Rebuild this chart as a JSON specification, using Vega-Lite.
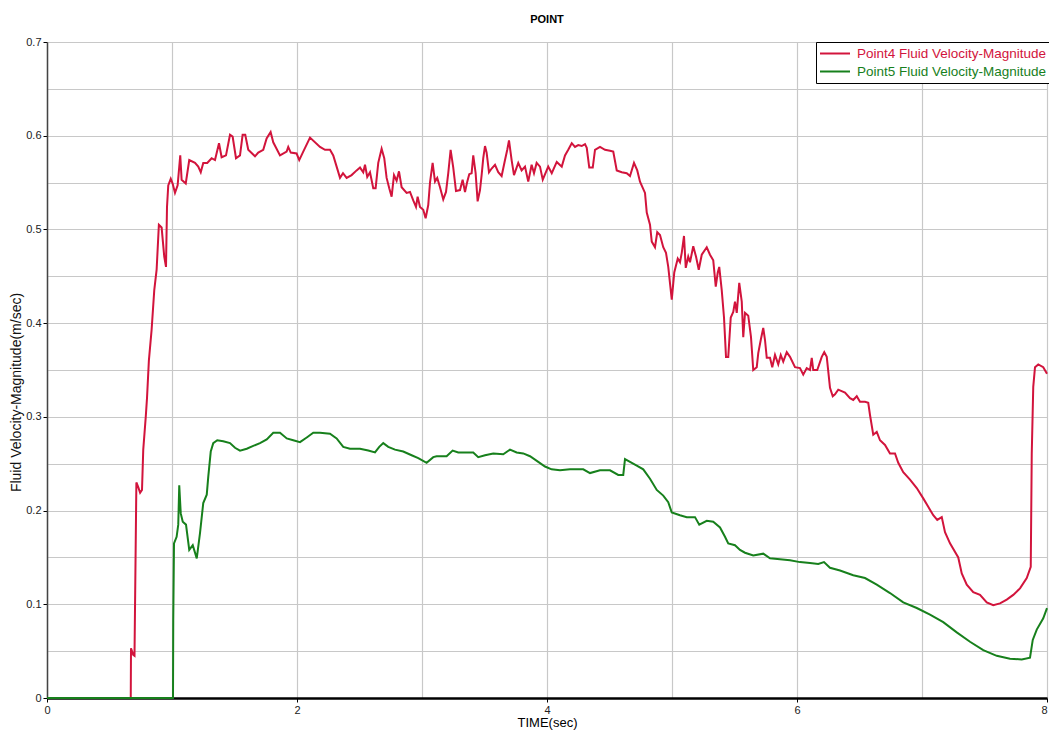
{
  "$schema": "https://vega.github.io/schema/vega-lite/v6.json",
  "width": 1000,
  "height": 656,
  "autosize": {"type": "none"},
  "padding": {"left": 47, "top": 42, "right": 2, "bottom": 33},
  "background": "white",
  "title": {"text": "POINT", "fontSize": 11, "fontWeight": "bold", "font": "Liberation Sans", "color": "#000", "offset": 11},
  "config": {
    "view": {"stroke": null},
    "font": "Liberation Sans"
  },
  "datasets": {
    "p4": [
      {"t":0,"v":0},{"t":0.67,"v":0},{"t":0.672,"v":0.053},{"t":0.69,"v":0.046},{"t":0.70,"v":0.045},{"t":0.715,"v":0.23},{"t":0.73,"v":0.225},{"t":0.745,"v":0.219},{"t":0.76,"v":0.222},{"t":0.77,"v":0.265},{"t":0.79,"v":0.30},{"t":0.80,"v":0.32},{"t":0.815,"v":0.36},{"t":0.837,"v":0.393},{"t":0.858,"v":0.435},{"t":0.877,"v":0.457},{"t":0.895,"v":0.505},{"t":0.917,"v":0.502},{"t":0.938,"v":0.471},{"t":0.952,"v":0.46},{"t":0.96,"v":0.524},{"t":0.97,"v":0.547},{"t":0.99,"v":0.554},{"t":1.005,"v":0.549},{"t":1.024,"v":0.539},{"t":1.045,"v":0.547},{"t":1.066,"v":0.579},{"t":1.077,"v":0.553},{"t":1.11,"v":0.549},{"t":1.138,"v":0.574},{"t":1.184,"v":0.571},{"t":1.21,"v":0.567},{"t":1.23,"v":0.561},{"t":1.25,"v":0.571},{"t":1.282,"v":0.571},{"t":1.317,"v":0.576},{"t":1.344,"v":0.574},{"t":1.376,"v":0.592},{"t":1.397,"v":0.577},{"t":1.432,"v":0.579},{"t":1.464,"v":0.601},{"t":1.485,"v":0.599},{"t":1.512,"v":0.576},{"t":1.544,"v":0.579},{"t":1.565,"v":0.601},{"t":1.586,"v":0.601},{"t":1.61,"v":0.585},{"t":1.664,"v":0.578},{"t":1.69,"v":0.582},{"t":1.73,"v":0.585},{"t":1.757,"v":0.597},{"t":1.789,"v":0.604},{"t":1.81,"v":0.593},{"t":1.864,"v":0.579},{"t":1.917,"v":0.583},{"t":1.93,"v":0.588},{"t":1.95,"v":0.582},{"t":1.997,"v":0.581},{"t":2.018,"v":0.574},{"t":2.05,"v":0.583},{"t":2.104,"v":0.598},{"t":2.184,"v":0.588},{"t":2.224,"v":0.585},{"t":2.264,"v":0.585},{"t":2.29,"v":0.579},{"t":2.317,"v":0.567},{"t":2.344,"v":0.555},{"t":2.368,"v":0.56},{"t":2.397,"v":0.555},{"t":2.437,"v":0.558},{"t":2.477,"v":0.563},{"t":2.504,"v":0.566},{"t":2.53,"v":0.561},{"t":2.544,"v":0.569},{"t":2.562,"v":0.556},{"t":2.584,"v":0.561},{"t":2.61,"v":0.544},{"t":2.629,"v":0.544},{"t":2.65,"v":0.571},{"t":2.677,"v":0.586},{"t":2.698,"v":0.576},{"t":2.717,"v":0.555},{"t":2.738,"v":0.544},{"t":2.757,"v":0.535},{"t":2.776,"v":0.558},{"t":2.797,"v":0.552},{"t":2.816,"v":0.562},{"t":2.837,"v":0.545},{"t":2.877,"v":0.539},{"t":2.904,"v":0.54},{"t":2.93,"v":0.531},{"t":2.952,"v":0.524},{"t":2.965,"v":0.535},{"t":2.984,"v":0.524},{"t":3.01,"v":0.521},{"t":3.029,"v":0.512},{"t":3.05,"v":0.526},{"t":3.064,"v":0.55},{"t":3.085,"v":0.571},{"t":3.104,"v":0.551},{"t":3.122,"v":0.555},{"t":3.144,"v":0.545},{"t":3.17,"v":0.532},{"t":3.192,"v":0.54},{"t":3.21,"v":0.56},{"t":3.229,"v":0.585},{"t":3.25,"v":0.566},{"t":3.272,"v":0.541},{"t":3.304,"v":0.542},{"t":3.325,"v":0.553},{"t":3.344,"v":0.54},{"t":3.362,"v":0.551},{"t":3.378,"v":0.559},{"t":3.397,"v":0.56},{"t":3.41,"v":0.579},{"t":3.429,"v":0.56},{"t":3.445,"v":0.53},{"t":3.464,"v":0.542},{"t":3.477,"v":0.558},{"t":3.49,"v":0.576},{"t":3.504,"v":0.589},{"t":3.517,"v":0.582},{"t":3.536,"v":0.561},{"t":3.557,"v":0.565},{"t":3.584,"v":0.569},{"t":3.61,"v":0.561},{"t":3.637,"v":0.557},{"t":3.664,"v":0.574},{"t":3.682,"v":0.585},{"t":3.696,"v":0.595},{"t":3.717,"v":0.574},{"t":3.736,"v":0.558},{"t":3.77,"v":0.571},{"t":3.797,"v":0.563},{"t":3.824,"v":0.567},{"t":3.85,"v":0.551},{"t":3.877,"v":0.569},{"t":3.896,"v":0.56},{"t":3.917,"v":0.571},{"t":3.944,"v":0.567},{"t":3.966,"v":0.553},{"t":4.01,"v":0.567},{"t":4.038,"v":0.56},{"t":4.078,"v":0.572},{"t":4.118,"v":0.567},{"t":4.144,"v":0.579},{"t":4.17,"v":0.585},{"t":4.198,"v":0.592},{"t":4.224,"v":0.588},{"t":4.25,"v":0.59},{"t":4.278,"v":0.589},{"t":4.304,"v":0.591},{"t":4.318,"v":0.587},{"t":4.338,"v":0.566},{"t":4.366,"v":0.566},{"t":4.384,"v":0.585},{"t":4.424,"v":0.588},{"t":4.464,"v":0.585},{"t":4.504,"v":0.584},{"t":4.53,"v":0.583},{"t":4.558,"v":0.563},{"t":4.598,"v":0.561},{"t":4.638,"v":0.56},{"t":4.664,"v":0.557},{"t":4.696,"v":0.571},{"t":4.722,"v":0.563},{"t":4.744,"v":0.551},{"t":4.784,"v":0.539},{"t":4.798,"v":0.518},{"t":4.824,"v":0.505},{"t":4.838,"v":0.487},{"t":4.864,"v":0.481},{"t":4.882,"v":0.497},{"t":4.904,"v":0.494},{"t":4.93,"v":0.481},{"t":4.952,"v":0.475},{"t":4.97,"v":0.46},{"t":4.998,"v":0.425},{"t":5.018,"v":0.454},{"t":5.046,"v":0.469},{"t":5.064,"v":0.465},{"t":5.078,"v":0.475},{"t":5.096,"v":0.493},{"t":5.11,"v":0.459},{"t":5.13,"v":0.471},{"t":5.144,"v":0.465},{"t":5.17,"v":0.482},{"t":5.192,"v":0.471},{"t":5.214,"v":0.457},{"t":5.238,"v":0.473},{"t":5.278,"v":0.481},{"t":5.304,"v":0.473},{"t":5.33,"v":0.467},{"t":5.35,"v":0.439},{"t":5.366,"v":0.454},{"t":5.378,"v":0.46},{"t":5.398,"v":0.435},{"t":5.416,"v":0.406},{"t":5.432,"v":0.364},{"t":5.45,"v":0.364},{"t":5.47,"v":0.406},{"t":5.49,"v":0.412},{"t":5.504,"v":0.423},{"t":5.518,"v":0.411},{"t":5.538,"v":0.443},{"t":5.558,"v":0.423},{"t":5.57,"v":0.385},{"t":5.584,"v":0.411},{"t":5.61,"v":0.408},{"t":5.632,"v":0.385},{"t":5.65,"v":0.35},{"t":5.678,"v":0.353},{"t":5.69,"v":0.368},{"t":5.71,"v":0.382},{"t":5.73,"v":0.395},{"t":5.744,"v":0.382},{"t":5.758,"v":0.363},{"t":5.784,"v":0.363},{"t":5.802,"v":0.353},{"t":5.824,"v":0.366},{"t":5.85,"v":0.356},{"t":5.87,"v":0.366},{"t":5.89,"v":0.359},{"t":5.918,"v":0.369},{"t":5.944,"v":0.364},{"t":5.984,"v":0.353},{"t":6.024,"v":0.352},{"t":6.05,"v":0.345},{"t":6.078,"v":0.352},{"t":6.104,"v":0.35},{"t":6.118,"v":0.363},{"t":6.13,"v":0.35},{"t":6.162,"v":0.35},{"t":6.198,"v":0.364},{"t":6.218,"v":0.369},{"t":6.238,"v":0.364},{"t":6.264,"v":0.331},{"t":6.286,"v":0.322},{"t":6.304,"v":0.324},{"t":6.33,"v":0.329},{"t":6.384,"v":0.326},{"t":6.424,"v":0.32},{"t":6.45,"v":0.318},{"t":6.478,"v":0.322},{"t":6.504,"v":0.316},{"t":6.544,"v":0.316},{"t":6.57,"v":0.315},{"t":6.584,"v":0.302},{"t":6.61,"v":0.281},{"t":6.638,"v":0.284},{"t":6.664,"v":0.275},{"t":6.704,"v":0.27},{"t":6.744,"v":0.261},{"t":6.784,"v":0.261},{"t":6.81,"v":0.251},{"t":6.85,"v":0.241},{"t":6.904,"v":0.233},{"t":6.958,"v":0.224},{"t":7.01,"v":0.213},{"t":7.05,"v":0.204},{"t":7.09,"v":0.195},{"t":7.122,"v":0.19},{"t":7.158,"v":0.193},{"t":7.184,"v":0.177},{"t":7.224,"v":0.165},{"t":7.29,"v":0.15},{"t":7.318,"v":0.133},{"t":7.358,"v":0.121},{"t":7.41,"v":0.113},{"t":7.464,"v":0.11},{"t":7.518,"v":0.102},{"t":7.57,"v":0.099},{"t":7.624,"v":0.101},{"t":7.678,"v":0.105},{"t":7.73,"v":0.11},{"t":7.784,"v":0.117},{"t":7.838,"v":0.128},{"t":7.87,"v":0.14},{"t":7.878,"v":0.261},{"t":7.89,"v":0.332},{"t":7.904,"v":0.353},{"t":7.93,"v":0.356},{"t":7.97,"v":0.353},{"t":8.0,"v":0.346}
    ],
    "p5": [
      {"t":0,"v":0},{"t":1.008,"v":0},{"t":1.01,"v":0.083},{"t":1.016,"v":0.165},{"t":1.037,"v":0.172},{"t":1.05,"v":0.185},{"t":1.058,"v":0.227},{"t":1.07,"v":0.197},{"t":1.086,"v":0.188},{"t":1.112,"v":0.185},{"t":1.138,"v":0.158},{"t":1.166,"v":0.163},{"t":1.198,"v":0.149},{"t":1.224,"v":0.176},{"t":1.25,"v":0.208},{"t":1.278,"v":0.217},{"t":1.29,"v":0.236},{"t":1.31,"v":0.263},{"t":1.33,"v":0.272},{"t":1.362,"v":0.275},{"t":1.41,"v":0.274},{"t":1.464,"v":0.272},{"t":1.504,"v":0.267},{"t":1.544,"v":0.264},{"t":1.598,"v":0.266},{"t":1.65,"v":0.269},{"t":1.704,"v":0.272},{"t":1.758,"v":0.276},{"t":1.81,"v":0.283},{"t":1.864,"v":0.283},{"t":1.918,"v":0.277},{"t":1.97,"v":0.275},{"t":2.024,"v":0.273},{"t":2.078,"v":0.278},{"t":2.13,"v":0.283},{"t":2.184,"v":0.283},{"t":2.264,"v":0.282},{"t":2.317,"v":0.277},{"t":2.37,"v":0.268},{"t":2.424,"v":0.266},{"t":2.504,"v":0.266},{"t":2.57,"v":0.264},{"t":2.624,"v":0.262},{"t":2.658,"v":0.268},{"t":2.69,"v":0.272},{"t":2.73,"v":0.268},{"t":2.784,"v":0.265},{"t":2.85,"v":0.263},{"t":2.917,"v":0.259},{"t":2.97,"v":0.256},{"t":3.037,"v":0.251},{"t":3.09,"v":0.257},{"t":3.117,"v":0.258},{"t":3.197,"v":0.258},{"t":3.245,"v":0.264},{"t":3.29,"v":0.262},{"t":3.357,"v":0.262},{"t":3.41,"v":0.262},{"t":3.45,"v":0.257},{"t":3.504,"v":0.259},{"t":3.57,"v":0.261},{"t":3.65,"v":0.26},{"t":3.704,"v":0.265},{"t":3.757,"v":0.262},{"t":3.81,"v":0.261},{"t":3.864,"v":0.258},{"t":3.93,"v":0.252},{"t":3.984,"v":0.247},{"t":4.037,"v":0.244},{"t":4.104,"v":0.243},{"t":4.184,"v":0.244},{"t":4.29,"v":0.244},{"t":4.344,"v":0.24},{"t":4.424,"v":0.243},{"t":4.504,"v":0.243},{"t":4.57,"v":0.238},{"t":4.61,"v":0.238},{"t":4.624,"v":0.255},{"t":4.664,"v":0.252},{"t":4.718,"v":0.248},{"t":4.77,"v":0.244},{"t":4.824,"v":0.234},{"t":4.878,"v":0.222},{"t":4.93,"v":0.216},{"t":4.97,"v":0.209},{"t":4.998,"v":0.198},{"t":5.064,"v":0.195},{"t":5.118,"v":0.193},{"t":5.184,"v":0.193},{"t":5.218,"v":0.185},{"t":5.278,"v":0.189},{"t":5.33,"v":0.188},{"t":5.384,"v":0.182},{"t":5.424,"v":0.172},{"t":5.45,"v":0.165},{"t":5.504,"v":0.163},{"t":5.544,"v":0.158},{"t":5.584,"v":0.155},{"t":5.65,"v":0.152},{"t":5.73,"v":0.154},{"t":5.784,"v":0.149},{"t":5.864,"v":0.148},{"t":5.944,"v":0.147},{"t":6.024,"v":0.145},{"t":6.104,"v":0.144},{"t":6.17,"v":0.143},{"t":6.216,"v":0.145},{"t":6.264,"v":0.139},{"t":6.344,"v":0.136},{"t":6.45,"v":0.131},{"t":6.544,"v":0.128},{"t":6.638,"v":0.121},{"t":6.744,"v":0.112},{"t":6.85,"v":0.102},{"t":6.958,"v":0.096},{"t":7.064,"v":0.089},{"t":7.17,"v":0.081},{"t":7.278,"v":0.07},{"t":7.384,"v":0.06},{"t":7.49,"v":0.051},{"t":7.598,"v":0.045},{"t":7.704,"v":0.042},{"t":7.798,"v":0.041},{"t":7.864,"v":0.043},{"t":7.886,"v":0.062},{"t":7.918,"v":0.073},{"t":7.97,"v":0.085},{"t":8.0,"v":0.096}
    ]
  },
  "layer": [
    {
      "data": {"values": [{"top": 0.7}]},
      "mark": {"type": "rule", "color": "#000", "strokeWidth": 1.5},
      "encoding": {"y": {"field": "top", "type": "quantitative"}}
    },
    {
      "data": {"name": "p4"},
      "transform": [{"calculate": "'Point4 Fluid Velocity-Magnitude'", "as": "s"}],
      "mark": {"type": "line", "strokeWidth": 2, "interpolate": "linear"},
      "encoding": {
        "x": {"field": "t", "type": "quantitative"},
        "y": {"field": "v", "type": "quantitative"},
        "color": {"field": "s", "type": "nominal"}
      }
    },
    {
      "data": {"name": "p5"},
      "transform": [{"calculate": "'Point5 Fluid Velocity-Magnitude'", "as": "s"}],
      "mark": {"type": "line", "strokeWidth": 2, "interpolate": "linear"},
      "encoding": {
        "x": {"field": "t", "type": "quantitative"},
        "y": {"field": "v", "type": "quantitative"},
        "color": {"field": "s", "type": "nominal"}
      }
    }
  ],
  "encoding": {
    "x": {
      "field": "t", "type": "quantitative",
      "scale": {"domain": [0, 8], "nice": false, "zero": false},
      "axis": {
        "title": "TIME(sec)", "titleFont": "Liberation Sans", "titleFontSize": 13, "titleFontWeight": "normal", "titleColor": "#000", "titlePadding": 1,
        "values": [0,1,2,3,4,5,6,7,8],
        "labelExpr": "datum.value % 2 == 0 ? datum.label : ''",
        "labelAlign": {"condition": {"test": "datum.value == 8", "value": "right"}, "value": "center"},
        "labelFontSize": 11, "labelColor": "#222", "labelPadding": 2, "labelFlush": false, "labelOverlap": false,
        "tickColor": {"condition": {"test": "datum.value % 2 == 0", "value": "#000"}, "value": "transparent"},
        "tickSize": 4,
        "domainColor": "#000", "domainWidth": 2.5,
        "grid": true, "gridColor": "#c8c8c8", "gridWidth": 1.2
      }
    },
    "y": {
      "field": "v", "type": "quantitative",
      "scale": {"domain": [0, 0.7], "nice": false},
      "axis": {
        "title": "Fluid Velocity-Magnitude(m/sec)", "titleFont": "Liberation Sans", "titleFontSize": 14, "titleFontWeight": "normal", "titleColor": "#111",
        "titleX": -24, "titleY": 350,
        "values": [0,0.05,0.1,0.15,0.2,0.25,0.3,0.35,0.4,0.45,0.5,0.55,0.6,0.65,0.7],
        "format": "~g",
        "labelExpr": "round(datum.value*100) % 10 == 0 ? datum.label : ''",
        "labelFontSize": 11, "labelColor": "#222", "labelPadding": 2, "labelFlush": false, "labelOverlap": false,
        "tickColor": {"condition": {"test": "round(datum.value*100) % 10 == 0", "value": "#000"}, "value": "transparent"},
        "tickSize": 4,
        "domainColor": "#444", "domainWidth": 1.5,
        "grid": true, "gridColor": "#c8c8c8", "gridWidth": 1.2
      }
    },
    "color": {
      "field": "s", "type": "nominal",
      "scale": {"domain": ["Point4 Fluid Velocity-Magnitude", "Point5 Fluid Velocity-Magnitude"], "range": ["#d2143c", "#17801c"]},
      "legend": {
        "title": null, "orient": "none", "legendX": 769, "legendY": 0,
        "strokeColor": "#000", "fillColor": "#fff", "padding": 3,
        "symbolType": "stroke", "symbolStrokeWidth": 2, "symbolSize": 900,
        "labelFont": "Liberation Sans", "labelFontSize": 13.5, "labelLimit": 400,
        "rowPadding": 1, "clipHeight": 17, "labelOffset": 6,
        "encode": {"labels": {"update": {"fill": {"signal": "scale('color', datum.value)"}}}}
      }
    }
  }
}
